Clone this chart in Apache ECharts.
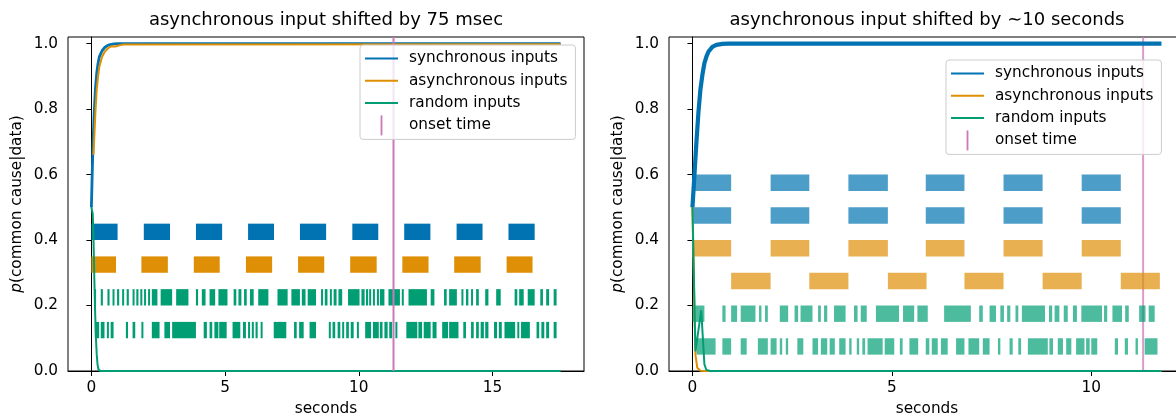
<!DOCTYPE html>
<html>
<head>
<meta charset="utf-8">
<script src="https://cdn.jsdelivr.net/npm/echarts@6/dist/echarts.min.js"></script>
<style>
  html, body { margin: 0; padding: 0; background: #ffffff; }
  #chart { width: 1176px; height: 417px; }
</style>
</head>
<body>
<div id="chart"></div>
<script>
// ---------- data ----------
// posterior p(common cause | data) over time, [seconds, probability]
const leftSyncCurve = [[0,0.5],[0.03,0.6],[0.06,0.69],[0.1,0.78],[0.15,0.86],[0.2,0.91],[0.25,0.94],[0.3,0.96],[0.4,0.978],[0.5,0.988],[0.6,0.994],[0.7,0.997],[0.85,0.999],[1.0,1.0],[17.55,1.0]];
const leftAsyncCurve = [[0.075,0.66],[0.1,0.7],[0.15,0.79],[0.2,0.86],[0.25,0.9],[0.3,0.93],[0.4,0.96],[0.5,0.975],[0.6,0.984],[0.7,0.99],[0.8,0.992],[0.9,0.991],[0.97,0.988],[1.05,0.995],[1.2,0.997],[17.55,0.998]];
const leftRandomCurve = [[0,0.5],[0.05,0.48],[0.08,0.4],[0.11,0.28],[0.14,0.18],[0.17,0.1],[0.2,0.05],[0.23,0.02],[0.27,0.003],[0.35,0],[17.55,0]];

const rightSyncCurve = [[0,0.5],[0.05,0.6],[0.1,0.7],[0.15,0.79],[0.2,0.86],[0.25,0.905],[0.3,0.94],[0.35,0.96],[0.4,0.975],[0.5,0.99],[0.6,0.996],[0.75,0.999],[0.9,1.0],[11.76,1.0]];
const rightAsyncCurve = [[0,0.5],[0.04,0.25],[0.075,0.05],[0.12,0.01],[0.2,0.001],[0.3,0],[11.76,0]];
const rightRandomCurve = [[0,0.5],[0.075,0.06],[0.22,0.185],[0.3,0.02],[0.35,0.003],[0.45,0],[11.76,0]];

const onsetTime = 11.3;

// spike trains, merged into [start, end] intervals in seconds
const leftSyncSpikes = [[0,0.98],[1.96,2.94],[3.91,4.89],[5.86,6.83],[7.8,8.78],[9.76,10.73],[11.7,12.68],[13.66,14.63],[15.6,16.58]];
const leftAsyncSpikes = [[0,0.92],[1.87,2.86],[3.83,4.8],[5.78,6.76],[7.73,8.71],[9.68,10.67],[11.63,12.61],[13.57,14.56],[15.53,16.5]];
const leftRandomSpikesA = [[0.10,0.17],[0.35,0.43],[0.60,0.68],[0.79,0.86],[0.96,1.04],[1.15,1.21],[1.32,1.40],[1.54,1.61],[1.68,1.76],[1.83,1.90],[1.97,2.04],[2.12,2.19],[2.26,2.47],[2.59,3.02],[3.17,3.63],[3.91,3.99],[4.13,4.27],[4.42,4.63],[4.75,5.09],[5.32,5.42],[5.50,5.61],[5.71,5.81],[5.93,6.07],[6.24,6.62],[6.96,7.34],[7.48,7.80],[7.87,8.01],[8.09,8.40],[8.59,8.66],[8.73,8.83],[8.92,8.98],[9.06,9.17],[9.24,9.38],[9.60,10.03],[10.10,10.22],[10.27,10.35],[10.39,10.46],[10.53,10.60],[10.68,10.75],[10.79,10.96],[11.11,11.54],[11.61,11.65],[11.86,12.55],[12.69,12.83],[13.19,13.29],[13.38,13.67],[13.84,13.91],[14.01,14.10],[14.20,14.27],[14.39,14.49],[14.73,14.85],[15.14,15.31],[15.83,15.93],[16.0,16.17],[16.32,16.58],[16.79,16.89],[17.01,17.12],[17.29,17.40]];
const leftRandomSpikesB = [[0.13,0.29],[0.35,0.49],[0.58,0.63],[0.72,0.83],[1.29,1.37],[1.54,1.64],[1.87,1.94],[2.26,2.55],[2.73,2.94],[3.02,3.91],[4.20,4.32],[4.42,4.52],[4.60,4.75],[4.78,5.06],[5.28,5.57],[5.67,5.78],[5.86,5.93],[6.0,6.07],[6.14,6.22],[6.33,6.39],[6.82,7.29],[7.58,7.68],[7.77,7.94],[8.16,8.40],[8.88,8.95],[9.02,9.12],[9.21,9.31],[9.38,9.45],[9.53,9.63],[9.70,9.81],[9.93,9.99],[10.24,10.46],[10.53,10.75],[10.79,10.89],[10.96,11.08],[11.14,11.25],[11.37,11.42],[11.78,12.19],[12.23,12.37],[12.43,12.69],[12.76,12.91],[13.12,13.34],[13.38,13.73],[13.91,14.01],[14.20,14.30],[14.39,14.49],[14.56,14.68],[14.73,14.85],[15.06,15.17],[15.24,15.35],[15.45,15.85],[15.93,16.0],[16.07,16.40],[16.65,16.75],[16.83,16.94],[17.01,17.12],[17.29,17.40]];

const rightSyncSpikes = [[0,0.97],[1.96,2.93],[3.91,4.9],[5.85,6.82],[7.8,8.78],[9.76,10.74]];
const rightAsyncSpikesA = [[0,0.97],[1.96,2.93],[3.91,4.9],[5.85,6.82],[7.8,8.78],[9.76,10.74]];
const rightAsyncSpikesB = [[0.97,1.96],[2.93,3.91],[4.9,5.87],[6.82,7.8],[8.78,9.76],[10.74,11.72]];
const rightRandomSpikesA = [[0,0.30],[0.75,0.83],[0.97,1.12],[1.21,1.58],[1.67,1.73],[1.82,1.89],[2.19,2.40],[2.56,2.65],[2.71,3.01],[3.15,3.22],[3.30,3.38],[3.55,3.84],[4.05,4.14],[4.22,4.37],[4.60,5.18],[5.28,5.56],[5.64,5.90],[6.31,6.98],[7.19,7.28],[7.45,7.61],[7.72,7.81],[7.89,7.97],[8.10,8.17],[8.26,8.84],[8.94,9.02],[9.08,9.20],[9.31,9.41],[9.54,9.64],[9.75,10.27],[10.32,10.40],[10.53,10.77],[10.85,10.94],[11.20,11.36],[11.44,11.59]];
const rightRandomSpikesB = [[0.10,0.58],[0.75,0.97],[1.21,1.36],[1.64,1.89],[1.96,2.11],[2.19,2.25],[2.34,2.40],[2.63,2.78],[3.01,3.15],[3.22,3.38],[3.44,3.57],[3.68,3.84],[3.93,3.99],[4.12,4.18],[4.26,4.33],[4.39,4.77],[4.82,5.06],[5.20,5.27],[5.44,5.66],[5.85,5.94],[6.0,6.15],[6.23,6.40],[6.61,6.82],[6.92,7.19],[7.28,7.45],[7.66,7.72],[7.95,8.03],[8.17,8.24],[8.41,8.91],[8.95,9.04],[9.16,9.29],[9.37,9.50],[9.62,9.83],[9.87,9.96],[10.0,10.15],[10.59,10.67],[10.84,10.92],[11.11,11.17],[11.34,11.66]];

// tick labels
const xTicksLeft = [0, 5, 10, 15];
const xTicksRight = [0, 5, 10];
const yTicks = [0, 0.2, 0.4, 0.6, 0.8, 1.0];

// ---------- styling ----------
const C_SYNC = '#0173B2', C_ASYNC = '#DE8F05', C_RAND = '#029E73', C_ONSET = '#CC78BC';
const FONT = 'DejaVu Sans';
const FS = 15.3;       // ticks, axis names, legend
const TITLE_FS = 18;
const ROW_H = 0.05;    // height of one spike row (in y units)

const LINE_ICON = 'path://M0,0 H33 V2 H0 Z';
const ONSET_ICON = 'path://M0,0 H2 V22 H0 Z';
const legendNames = ['synchronous inputs', 'asynchronous inputs', 'random inputs', 'onset time'];

function rowSeries(gridIdx, intervals, offset, color, opacity, z) {
  return {
    type: 'custom',
    xAxisIndex: gridIdx, yAxisIndex: gridIdx,
    z: z,
    silent: true,
    clip: true,
    data: intervals.map(iv => [iv[0], iv[1], offset]),
    encode: { x: [0, 1], y: 2 },
    renderItem: function (params, api) {
      const c = api.value(2);
      const p0 = api.coord([api.value(0), c + ROW_H / 2]);
      const p1 = api.coord([api.value(1), c - ROW_H / 2]);
      return {
        type: 'rect',
        shape: { x: p0[0], y: p0[1], width: Math.max(p1[0] - p0[0], 2), height: p1[1] - p0[1] },
        style: { fill: color, opacity: opacity }
      };
    }
  };
}

function curve(gridIdx, name, data, color, width, z) {
  return {
    type: 'line', name: name,
    xAxisIndex: gridIdx, yAxisIndex: gridIdx,
    data: data, showSymbol: false, symbol: 'none', z: z,
    silent: true,
    lineStyle: { color: color, width: width },
    itemStyle: { color: color }
  };
}

function onset(gridIdx, opacity, z) {
  return {
    type: 'line', name: 'onset time',
    xAxisIndex: gridIdx, yAxisIndex: gridIdx,
    data: [[onsetTime, 0], [onsetTime, 1.02]],
    showSymbol: false, symbol: 'none', z: z, silent: true,
    lineStyle: { color: C_ONSET, width: 2, opacity: opacity },
    itemStyle: { color: C_ONSET }
  };
}

function xAxis(gridIdx, min, max, ticks) {
  return {
    type: 'value', gridIndex: gridIdx, min: min, max: max,
    axisLine: { show: true, lineStyle: { color: '#000', width: 1 } },
    axisTick: { show: true, length: 5, customValues: ticks, lineStyle: { color: '#000', width: 1 } },
    axisLabel: { customValues: ticks, margin: 10, color: '#000', fontFamily: FONT, fontSize: FS },
    splitLine: { show: false },
    name: 'seconds', nameLocation: 'middle', nameGap: 31,
    nameTextStyle: { color: '#000', fontFamily: FONT, fontSize: FS }
  };
}

function yAxis(gridIdx) {
  return {
    type: 'value', gridIndex: gridIdx, min: 0, max: 1.02,
    axisLine: { show: true, lineStyle: { color: '#000', width: 1 } },
    axisTick: { show: true, length: 5, customValues: yTicks, lineStyle: { color: '#000', width: 1 } },
    axisLabel: { customValues: yTicks, margin: 10, color: '#000', fontFamily: FONT, fontSize: FS,
                 formatter: v => v.toFixed(1) },
    splitLine: { show: false },
    name: '{i|p}(common cause|data)', nameLocation: 'middle', nameGap: 43, nameRotate: 90,
    nameTextStyle: { color: '#000', fontFamily: FONT, fontSize: FS,
                     rich: { i: { fontStyle: 'italic', fontFamily: FONT, fontSize: FS, color: '#000' } } }
  };
}

function legend(left, top) {
  return {
    orient: 'vertical', left: left, top: top,
    selectedMode: false,
    itemWidth: 33, itemHeight: 20, itemGap: 2.3,
    padding: [3.5, 8, 4, 5],
    backgroundColor: 'rgba(255,255,255,0.8)',
    borderColor: '#cccccc', borderWidth: 1, borderRadius: 3,
    itemStyle: { borderWidth: 0 },
    formatter: n => '{gap|}' + n,
    textStyle: { color: '#000', fontFamily: FONT, fontSize: FS, lineHeight: 20,
                 rich: { gap: { width: 6, lineHeight: 20 } } },
    data: legendNames.map(n => ({ name: n, icon: n === 'onset time' ? ONSET_ICON : LINE_ICON })),
    z: 10
  };
}

function grid(left) {
  return { left: left, top: 37, width: 516, height: 334, outerBoundsMode: 'none', containLabel: false,
           show: true, borderColor: '#000', borderWidth: 1, backgroundColor: 'transparent' };
}

const chart = echarts.init(document.getElementById('chart'), null, { renderer: 'canvas' });

chart.setOption({
  animation: false,
  backgroundColor: '#ffffff',
  title: [
    { text: 'asynchronous input shifted by 75 msec', left: 326, top: 11, textAlign: 'center', padding: 0,
      textStyle: { color: '#000', fontFamily: FONT, fontSize: TITLE_FS, fontWeight: 'normal' } },
    { text: 'asynchronous input shifted by \u223C10 seconds', left: 927, top: 11, textAlign: 'center', padding: 0,
      textStyle: { color: '#000', fontFamily: FONT, fontSize: TITLE_FS, fontWeight: 'normal' } }
  ],
  grid: [ grid(68), grid(669) ],
  xAxis: [ xAxis(0, -0.875, 18.425, xTicksLeft), xAxis(1, -0.588, 12.35, xTicksRight) ],
  yAxis: [ yAxis(0), yAxis(1) ],
  legend: [ legend(360, 45), legend(946, 60) ],
  series: [
    // left panel: spike rows, then posterior curves, then onset marker
    rowSeries(0, leftSyncSpikes, 0.425, C_SYNC, 1, 2),
    rowSeries(0, leftAsyncSpikes, 0.325, C_ASYNC, 1, 2),
    rowSeries(0, leftRandomSpikesA, 0.225, C_RAND, 1, 2),
    rowSeries(0, leftRandomSpikesB, 0.125, C_RAND, 1, 2),
    curve(0, 'synchronous inputs', leftSyncCurve, C_SYNC, 2.8, 3),
    curve(0, 'asynchronous inputs', leftAsyncCurve, C_ASYNC, 2, 3),
    curve(0, 'random inputs', leftRandomCurve, C_RAND, 2, 3),
    onset(0, 1, 4),

    // right panel: onset marker below translucent spike rows, curves on top
    onset(1, 0.75, 2),
    rowSeries(1, rightSyncSpikes, 0.575, C_SYNC, 0.7, 3),
    rowSeries(1, rightSyncSpikes, 0.475, C_SYNC, 0.7, 3),
    rowSeries(1, rightAsyncSpikesA, 0.375, C_ASYNC, 0.7, 3),
    rowSeries(1, rightAsyncSpikesB, 0.275, C_ASYNC, 0.7, 3),
    rowSeries(1, rightRandomSpikesA, 0.175, C_RAND, 0.7, 3),
    rowSeries(1, rightRandomSpikesB, 0.075, C_RAND, 0.7, 3),
    curve(1, 'synchronous inputs', rightSyncCurve, C_SYNC, 4.2, 4),
    curve(1, 'asynchronous inputs', rightAsyncCurve, C_ASYNC, 2, 4),
    curve(1, 'random inputs', rightRandomCurve, C_RAND, 2, 4)
  ]
});
</script>
</body>
</html>
